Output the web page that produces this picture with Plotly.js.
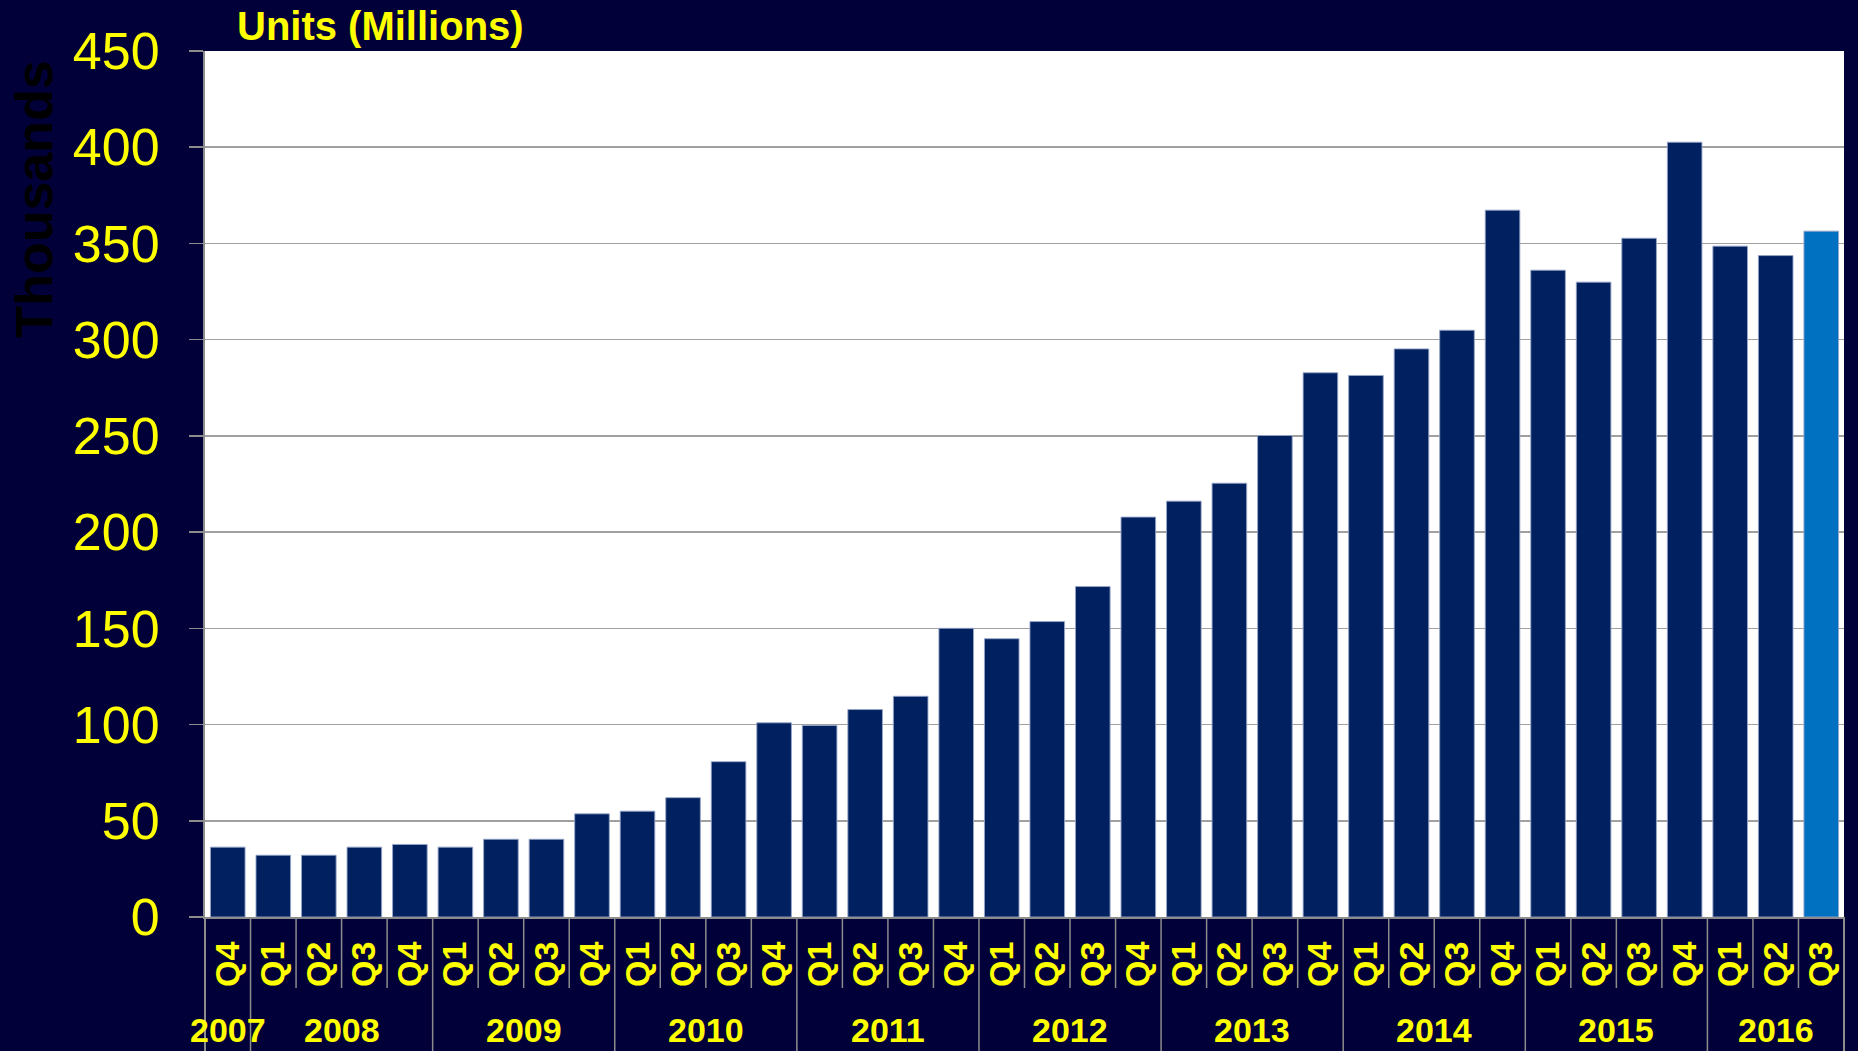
<!DOCTYPE html>
<html>
<head>
<meta charset="utf-8">
<script src="https://cdn.plot.ly/plotly-3.0.1.min.js"></script>
<style>
  html, body { margin: 0; padding: 0; background: #020038; }
  #chart { width: 1858px; height: 1051px; }
</style>
</head>
<body>
<div id="chart"></div>
<script>
// ---- data ----
const quarterLabels = ['Q4',
  'Q1','Q2','Q3','Q4',
  'Q1','Q2','Q3','Q4',
  'Q1','Q2','Q3','Q4',
  'Q1','Q2','Q3','Q4',
  'Q1','Q2','Q3','Q4',
  'Q1','Q2','Q3','Q4',
  'Q1','Q2','Q3','Q4',
  'Q1','Q2','Q3','Q4',
  'Q1','Q2','Q3'];
const barYears = ['2007',
  '2008','2008','2008','2008',
  '2009','2009','2009','2009',
  '2010','2010','2010','2010',
  '2011','2011','2011','2011',
  '2012','2012','2012','2012',
  '2013','2013','2013','2013',
  '2014','2014','2014','2014',
  '2015','2015','2015','2015',
  '2016','2016','2016'];
const units = [36.3,
  32.1, 32.1, 36.3, 37.7,
  36.3, 40.4, 40.4, 53.6,
  55.0, 62.0, 80.7, 100.9,
  99.5, 107.8, 114.7, 150.0,
  144.6, 153.5, 171.7, 207.8,
  216.1, 225.4, 250.2, 282.8,
  281.4, 295.2, 304.9, 367.3,
  336.1, 329.9, 352.7, 402.6,
  348.6, 343.7, 356.4];
const highlightIndex = units.length - 1;
const yTickVals = [0, 50, 100, 150, 200, 250, 300, 350, 400, 450];

// ---- styling ----
const BG = '#020038';
const BAR = '#00205f';
const BAR_HI = '#0070c0';
const YELLOW = '#ffff00';
const GRID = '#a0a0a0';
const SEP = '#8c8c8c';
const FONT = 'Liberation Sans, Arial, Helvetica, sans-serif';

const xIdx = units.map((_, i) => i);
const colors = units.map((_, i) => i === highlightIndex ? BAR_HI : BAR);

// year groups
const groups = [];
barYears.forEach((yr, i) => {
  const g = groups[groups.length - 1];
  if (g && g.year === yr) g.last = i;
  else groups.push({year: yr, first: i, last: i});
});

const shapes = [];
const yearBoundaries = new Set(groups.map(g => g.first));
// quarter separators
for (let i = 1; i < units.length; i++) {
  if (yearBoundaries.has(i)) continue;
  shapes.push({type: 'line', xref: 'x', yref: 'paper', x0: i - 0.5, x1: i - 0.5,
    y0: 0, y1: -0.082, line: {color: SEP, width: 1.5}});
}
// year separators (inner)
groups.forEach(g => {
  if (g.first === 0) return;
  shapes.push({type: 'line', xref: 'x', yref: 'paper', x0: g.first - 0.5, x1: g.first - 0.5,
    y0: 0, y1: -0.2, line: {color: SEP, width: 1.5}});
});
// outer edges
[0, 1].forEach(d => {
  shapes.push({type: 'line', xref: 'x domain', yref: 'paper', x0: d, x1: d,
    y0: 0, y1: -0.2, line: {color: SEP, width: 2}});
});

const annotations = groups.map(g => ({
  xref: 'x', yref: 'paper', x: (g.first + g.last) / 2, y: -0.131,
  xanchor: 'center', yanchor: 'middle', showarrow: false, text: g.year,
  font: {family: FONT, size: 34, color: YELLOW, weight: 'bold'}
}));
annotations.push({
  xref: 'paper', yref: 'paper', x: -0.104, y: 0.829,
  xanchor: 'center', yanchor: 'middle', showarrow: false, text: 'Thousands',
  textangle: -90,
  font: {family: FONT, size: 52, color: '#000000', weight: 'bold'}
});

const trace = {
  type: 'bar',
  x: xIdx,
  y: units,
  marker: {color: colors, line: {color: 'rgba(150,165,200,0.9)', width: 1}},
  hoverinfo: 'y'
};

const layout = {
  width: 1858,
  height: 1051,
  paper_bgcolor: BG,
  plot_bgcolor: '#ffffff',
  margin: {l: 205, r: 14, t: 51, b: 134, pad: 0},
  bargap: 0.24,
  showlegend: false,
  title: {
    text: 'Units (Millions)',
    x: 237 / 1858, xanchor: 'left', xref: 'container',
    y: 1 - 26 / 1051, yanchor: 'middle', yref: 'container',
    font: {family: FONT, size: 40, color: YELLOW, weight: 'bold'}
  },
  xaxis: {
    range: [-0.5, units.length - 0.5],
    tickvals: xIdx,
    ticktext: quarterLabels,
    tickangle: -90,
    ticks: '',
    ticklabelstandoff: 9,
    tickfont: {family: FONT, size: 34, color: YELLOW, weight: 'bold'},
    showgrid: false,
    zeroline: false,
    showline: true,
    linecolor: SEP,
    linewidth: 2,
    fixedrange: true
  },
  yaxis: {
    range: [0, 450],
    tickvals: yTickVals,
    ticks: 'outside',
    ticklen: 14,
    tickwidth: 1.5,
    tickcolor: SEP,
    ticklabelstandoff: 19,
    tickfont: {family: FONT, size: 52, color: YELLOW},
    showgrid: true,
    gridcolor: GRID,
    gridwidth: 1.5,
    zeroline: false,
    showline: true,
    linecolor: SEP,
    linewidth: 2,
    fixedrange: true
  },
  shapes: shapes,
  annotations: annotations
};

Plotly.newPlot('chart', [trace], layout, {displayModeBar: false, staticPlot: true});
</script>
</body>
</html>
